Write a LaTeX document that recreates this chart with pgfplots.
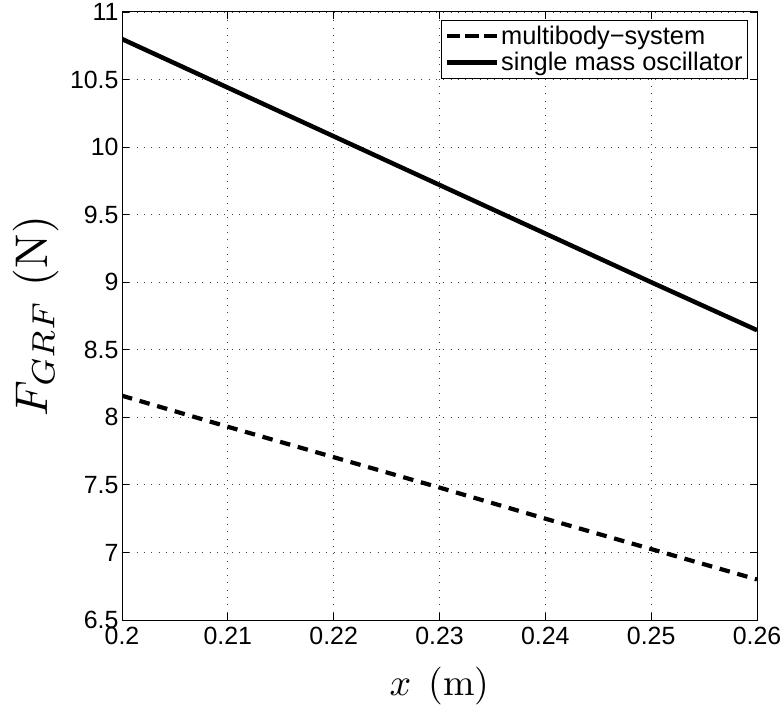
\documentclass[border=0pt]{standalone}
\usepackage{graphicx}
\usepackage{pgfplots}
\pgfplotsset{compat=1.18}
\usepackage{fontspec}
\newfontfamily\arial{Liberation Sans}
\begin{document}
\begin{tikzpicture}[x=1bp,y=1bp]
\begin{axis}[
  at={(122bp,88bp)}, anchor=south west,
  width=635bp, height=608bp, scale only axis,
  xmin=0.2, xmax=0.26, ymin=6.5, ymax=11,
  xtick={0.2,0.21,0.22,0.23,0.24,0.25,0.26},
  xticklabels={0.2,0.21,0.22,0.23,0.24,0.25,0.26},
  ytick={6.5,7,7.5,8,8.5,9,9.5,10,10.5,11},
  yticklabels={6.5,7,7.5,8,8.5,9,9.5,10,10.5,11},
  tick label style={font=\arial\fontsize{25}{25}\selectfont},
  xticklabel style={yshift=-4bp},
  tick align=inside, major tick length=7bp,
  every tick/.style={black, line width=0.8bp},
  axis line style={line width=1bp},
  grid=major,
  major grid style={black!75, line width=0.8bp, dash pattern=on 1bp off 6.3bp},
  xlabel={\scalebox{3.8}{$x$\hspace{0.45em}(m)}},
  ylabel={\scalebox{4.6}{$F_{GRF}$\hspace{0.3em}(N)}},
  xlabel style={font=\fontsize{10}{10}\selectfont, at={(axis description cs:0.5,0)}, anchor=base, yshift=-75bp},
  ylabel style={font=\fontsize{10}{10}\selectfont, at={(axis description cs:0,0.5)}, anchor=center, yshift=86bp},
  legend style={at={(1,1)}, anchor=north east, xshift=-9bp, yshift=-8bp,
    font=\arial\fontsize{25.5}{26}\selectfont, draw=black, line width=0.8bp,
    inner xsep=3bp, inner ysep=4bp, row sep=2bp,
    nodes={inner sep=2bp}},
  legend cell align=left,
  legend image code/.code={\path (0bp,0bp) -- (50bp,0bp); \draw[#1] (3bp,0bp) -- (50bp,0bp);},
]
\addplot[black, line width=4.2bp, dash pattern=on 10.5bp off 7.8bp] coordinates {
(0.20,8.16) (0.21,7.93) (0.22,7.705) (0.23,7.48) (0.24,7.25) (0.25,7.025) (0.26,6.80)};
\addlegendentry{multibody−system}
\addplot[black, line width=4.5bp] coordinates {
(0.20,10.80) (0.21,10.44) (0.22,10.08) (0.23,9.72) (0.24,9.36) (0.25,9.00) (0.26,8.645)};
\addlegendentry{single mass oscillator}
\end{axis}
\pgfresetboundingbox
\path (0bp,0bp) rectangle (784bp,708bp);
\end{tikzpicture}
\end{document}
